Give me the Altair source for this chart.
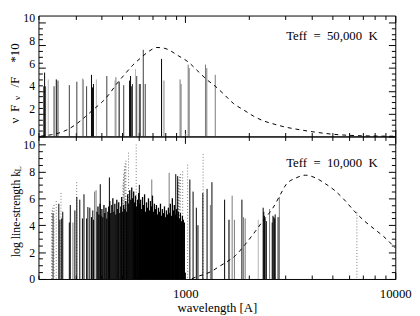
import altair as alt
import pandas as pd

# ---------------- data ----------------
# top panel (Teff = 50,000 K): line wavelengths [A], heights, shade
top_wl = [211.7, 213.9, 216.2, 222.6, 237.3, 243.2, 247.7, 280.5, 304.6, 323.8, 326.7, 339.0,
          357.6, 361.5, 365.4, 377.4, 423.1, 462.5, 467.5, 484.3, 509.3, 543.1, 548.9, 554.8,
          560.8, 579.1, 587.2, 604.4, 610.9, 631.0, 644.7, 770.9, 786.0, 794.4, 944.7, 955.0,
          1007.5, 1032.6, 1043.8, 1248.3, 1266.0, 1389.3]
top_h = [4.4, 5.6, 4.4, 5.0, 4.4, 5.0, 4.9, 4.5, 4.8, 5.1, 5.0, 4.4,
         5.4, 4.3, 4.6, 5.0, 5.3, 4.9, 5.2, 4.8, 4.5, 4.9, 5.3, 4.4,
         4.6, 5.9, 5.3, 4.6, 4.6, 7.6, 4.6, 6.8, 4.9, 4.9, 5.0, 4.6,
         0.25, 6.3, 6.0, 6.3, 6.0, 5.4]
top_c = ['d', 'k', 'd', 'l', 'd', 'k', 'd', 'd', 'd', 'l', 'g', 'd',
         'k', 'k', 'k', 'l', 'd', 'l', 'g', 'k', 'd', 'k', 'k', 'd',
         'd', 'l', 'd', 'd', 'd', 'd', 'd', 'k', 'l', 'l', 'g', 'g',
         'l', 'g', 'g', 'g', 'g', 'g']

# top panel dashed curve
top_curve_wl = [205, 230, 250, 275, 306, 335, 365, 401, 438, 471, 515, 563, 615, 673, 733, 800,
                928, 1033, 1149, 1256, 1398, 1529, 1702, 1895, 2110, 2349, 2614, 3000, 3356,
                4156, 5150, 6378, 7900, 10000]
top_curve_v = [0.03, 0.15, 0.3, 0.6, 1.15, 1.75, 2.36, 3.0, 3.8, 4.6, 5.45, 6.26, 6.9, 7.48, 7.8, 7.72,
               7.07, 6.53, 5.72, 5.04, 4.36, 3.69, 2.87, 2.33, 1.79, 1.38, 1.11, 0.82, 0.65,
               0.38, 0.18, 0.08, 0.04, 0.02]

# bottom panel (Teff = 10,000 K): individual lines
bot_wl = [234.8, 250, 253, 258, 261, 280.5, 283.5, 291.8, 298.1, 304.6, 314.6, 323.8, 329.4,
          339.0, 343.8, 351.2, 357.6, 362.7, 365.4, 370, 376,
          393.8, 435.2, 604.4, 692.6, 838.1, 901.2, 920,
          1051.6, 1089.4, 1129, 1149, 1212.6, 1270, 1317, 1339.6,
          1539.5, 1614, 1625, 1672, 1714, 1861, 1895, 1929,
          2226, 2349, 2365, 2381, 2400, 2432, 2520, 2594, 2615, 2640, 2665, 2679, 2757, 2795, 2805]
bot_h = [4.9, 5.6, 4.4, 4.5, 5.0, 4.2, 5.5, 4.2, 5.1, 6.1, 5.9, 4.5, 6.3,
         4.5, 5.35, 5.3, 4.6, 5.1, 4.4, 6.5, 6.6,
         7.05, 7.55, 7.0, 7.4, 7.9, 7.8, 7.65,
         7.4, 6.5, 5.3, 4.0, 6.4, 6.7, 5.5, 7.2,
         5.9, 4.4, 4.4, 6.2, 4.4, 5.9, 4.6, 4.5,
         4.4, 5.3, 5.0, 4.7, 4.5, 4.3, 5.2, 4.2, 4.7, 4.6, 4.5, 4.8, 4.6, 4.6, 6.1]
bot_c = ['d', 'k', 'k', 'k', 'k', 'k', 'k', 'g', 'k', 'k', 'k', 'k', 'k',
         'k', 'k', 'k', 'k', 'k', 'k', 'g', 'g',
         'k', 'k', 'k', 'g', 'g', 'k', 'k',
         'k', 'k', 'k', 'k', 'k', 'k', 'g', 'k',
         'k', 'k', 'g', 'g', 'g', 'k', 'g', 'g',
         'l', 'k', 'k', 'k', 'k', 'k', 'g', 'k', 'k', 'k', 'k', 'k', 'g', 'k', 'g']

# bottom panel: dense line forest
forest_wl = [380, 384, 388, 393, 397, 401, 405, 410, 414, 419,
             423, 428, 432, 437, 442, 447, 452, 457, 462, 467,
             472, 477, 482, 488, 493, 498, 504, 509, 515, 521,
             526, 532, 538, 544, 550, 556, 562, 568, 574, 580,
             587, 593, 600, 606, 613, 619, 626, 633, 640, 647,
             654, 661, 668, 676, 683, 690, 698, 706, 713, 721,
             729, 737, 745, 753, 762, 770, 778, 787, 796, 804,
             813, 822, 831, 840, 849, 859, 868, 878, 887, 897,
             907, 917, 927, 937, 948, 958, 969, 979, 990]
forest_h = [5.0, 5.4, 4.8, 5.6, 4.7, 5.2, 4.6, 5.5, 4.9, 5.3,
            4.5, 5.0, 5.4, 5.8, 4.9, 5.5, 6.0, 5.0, 5.6, 4.8,
            5.9, 5.2, 5.7, 4.9, 5.4, 6.1, 5.0, 5.5, 5.2, 5.8,
            5.0, 6.3, 5.6, 6.6, 5.9, 6.8, 6.0, 6.5, 5.7, 6.2,
            5.4, 5.9, 6.4, 5.6, 5.9, 5.2, 6.1, 5.5, 6.3, 5.0,
            5.7, 5.3, 6.0, 5.1, 5.8, 5.4, 6.2, 5.0, 5.6, 5.2,
            5.5, 4.8, 5.3, 5.0, 5.6, 4.7, 5.2, 4.9, 5.4, 4.6,
            5.1, 4.8, 5.3, 4.9, 5.6, 4.7, 6.0, 5.1, 5.5, 4.8,
            5.2, 4.6, 5.0, 4.5, 4.9, 4.3, 4.7, 4.4, 4.2]

# bottom panel: dotted lines (H, He series)
dot_wl = [231, 232.5, 234, 237, 243, 256, 304, 505, 507, 509, 512, 515, 518, 522, 537, 584,
          918, 920, 923, 926, 931, 938, 950, 972, 1026, 1216, 6563]
dot_h = [4.9, 5.1, 5.3, 5.5, 5.8, 6.4, 7.2, 7.0, 7.4, 7.8, 8.1, 8.4, 8.6, 8.8, 9.4, 10.0,
         6.6, 6.8, 7.0, 7.2, 7.4, 7.6, 7.8, 8.0, 8.5, 9.3, 5.0]

# bottom panel dashed curve
bot_curve_wl = [1075, 1149, 1236, 1326, 1425, 1529, 1733, 1929, 2147, 2349, 2614, 2910, 3012,
                3354, 3733, 4156, 4627, 5150, 5733, 6380, 7100, 7905, 8800, 10000]
bot_curve_v = [0.02, 0.2, 0.35, 0.55, 0.85, 1.15, 1.74, 2.57, 3.51, 4.34, 5.28, 6.6, 7.0,
               7.5, 7.72, 7.53, 7.1, 6.58, 5.87, 5.05, 4.34, 3.74, 3.16, 2.3]

annot = ["Teff\u2002=\u200250,000\u2002K", "Teff\u2002=\u200210,000\u2002K"]

y_major = [0, 2, 4, 6, 8, 10]
y_minor = [0.5, 1, 1.5, 2.5, 3, 3.5, 4.5, 5, 5.5, 6.5, 7, 7.5, 8.5, 9, 9.5]
x_major = [1000, 10000]
x_minor = [200, 300, 400, 500, 600, 700, 800, 900, 2000, 3000, 4000, 5000, 6000, 7000, 8000, 9000]

# ---------------- styling ----------------
FONT = "Liberation Serif"
XDOM = [200, 10000]
YDOM = [0, 10.6]
W, H_TOP, H_BOT = 363, 123, 145
shade = alt.Scale(domain=['k', 'd', 'g', 'l'], range=['#000000', '#3c3c3c', '#787878', '#b4b4b4'])


def xenc(axis=None):
    return alt.X('wl:Q', scale=alt.Scale(type='log', domain=XDOM, nice=False), axis=axis)


def yenc(field, axis=None):
    return alt.Y(f'{field}:Q', scale=alt.Scale(domain=YDOM, nice=False, zero=False), axis=axis)


def tick_axis(orient, values, size):
    return alt.Axis(orient=orient, values=values, tickSize=size, offset=-size, labels=False,
                    domain=False, grid=False, title=None, ticks=True, tickColor='black', tickWidth=1)


def axis_layers(show_x_labels, label_shift):
    dummy = pd.DataFrame({'wl': [1000], 'v': [5]})
    base = alt.Chart(dummy).mark_point(opacity=0)
    layers = [
        base.encode(x=xenc(tick_axis('bottom', x_major, 7)), y=yenc('v', tick_axis('left', y_major, 7))),
        base.encode(x=xenc(tick_axis('bottom', x_minor, 4)), y=yenc('v', tick_axis('left', y_minor, 4))),
        base.encode(x=xenc(tick_axis('top', x_major, 7)), y=yenc('v', tick_axis('right', y_major, 7))),
        base.encode(x=xenc(tick_axis('top', x_minor, 4)), y=yenc('v', tick_axis('right', y_minor, 4))),
    ]
    ylab = alt.Axis(orient='left', values=y_major, ticks=False, domain=False, grid=False, title=None,
                    labelFont=FONT, labelFontSize=12, labelPadding=4, labelColor='black',
                    labelOffset=label_shift)
    if show_x_labels:
        xlab = alt.Axis(orient='bottom', values=x_major, format='d', ticks=False, domain=False, grid=False,
                        title='wavelength [A]', labelFont=FONT, labelFontSize=13, labelPadding=9,
                        labelColor='black', labelFlush=False, titleFont=FONT, titleFontSize=13,
                        titleFontWeight='normal', titleColor='black', titlePadding=1)
    else:
        xlab = None
    layers.append(base.encode(x=xenc(xlab), y=yenc('v', ylab)))
    return layers


def text_piece(txt, x, y, size, angle=270, align='center'):
    return alt.Chart(pd.DataFrame({'t': [txt]})).mark_text(
        font=FONT, fontSize=size, angle=angle, align=align, baseline='middle', color='black'
    ).encode(text='t:N', x=alt.value(x), y=alt.value(y))


def lines(wl, h, c, width=1.0):
    df = pd.DataFrame({'wl': wl, 'h': h, 'c': c})
    df['base'] = 0
    return alt.Chart(df).mark_rule(strokeWidth=width).encode(
        x=xenc(), y=yenc('h'), y2=alt.Y2('base'),
        color=alt.Color('c:N', scale=shade, legend=None))


def curve(wl, v):
    df = pd.DataFrame({'wl': wl, 'v': v})
    return alt.Chart(df).mark_line(strokeDash=[4, 4], color='black', strokeWidth=1,
                                   interpolate='monotone').encode(x=xenc(), y=yenc('v'))


# ---------------- top panel ----------------
top_layers = axis_layers(False, -5) + [
    lines(top_wl, top_h, top_c),
    curve(top_curve_wl, top_curve_v),
    text_piece(annot[0], 252, 21, 13, angle=0, align='left'),
    text_piece('\u03bd', -24, 106.8, 13),
    text_piece('F', -24, 94.4, 13),
    text_piece('\u03bd', -21.5, 83.9, 9),
    text_piece('/F', -24, 67.7, 13),
    text_piece('*10', -24, 38.1, 13),
]
top = alt.layer(*top_layers).properties(width=W, height=H_TOP).resolve_axis(x='independent', y='independent')

# ---------------- bottom panel ----------------
dot_df = pd.DataFrame({'wl': dot_wl, 'h': dot_h})
dot_df['base'] = 0
dots = alt.Chart(dot_df).mark_rule(strokeWidth=1, strokeDash=[1, 2], color='#7a7a7a').encode(
    x=xenc(), y=yenc('h'), y2=alt.Y2('base'))

forest_df = pd.DataFrame({'wl': forest_wl, 'h': forest_h})
forest_df['base'] = 0
forest = alt.Chart(forest_df).mark_rule(strokeWidth=1.3, color='black').encode(
    x=xenc(), y=yenc('h'), y2=alt.Y2('base'))

bot_layers = axis_layers(True, 0) + [
    dots,
    lines(bot_wl, bot_h, bot_c),
    forest,
    curve(bot_curve_wl, bot_curve_v),
    text_piece(annot[1], 252, 27, 13, angle=0, align='left'),
    text_piece('log line-strength k', -23, 78.9, 12),
    text_piece('L', -20.5, 33, 9),
]
bot = alt.layer(*bot_layers).properties(width=W, height=H_BOT).resolve_axis(x='independent', y='independent')

chart = alt.vconcat(top, bot, spacing=0, bounds='flush').properties(
    padding=0, background='white').configure_view(stroke='black', strokeWidth=1)

chart.save("out.html", embed_options={"renderer": "svg", "actions": False})
